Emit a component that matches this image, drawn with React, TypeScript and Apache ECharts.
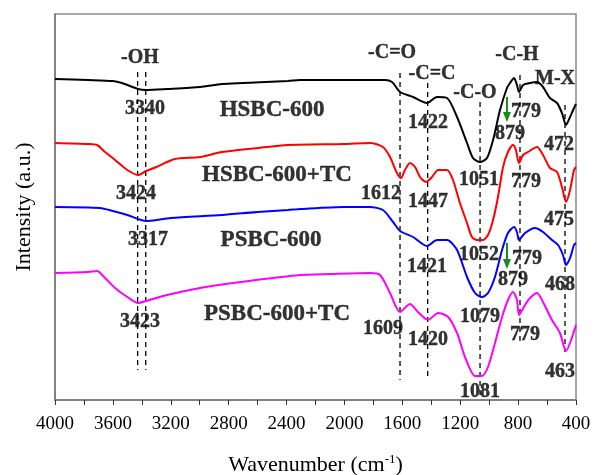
import React, { useEffect, useRef } from "react";
import * as echarts from "echarts";

// Curves: [wavenumber (cm-1), intensity (a.u., stacked offset)]
const hsbc600: number[][] = [
  [4000, 321], [3772, 320], [3600, 319], [3537, 317], [3426, 311], [3371, 310], [3226, 311], [2998, 313],
  [2846, 316], [2700, 317], [2390, 319], [2307, 320], [2000, 320], [1823, 320], [1720, 320], [1671, 318],
  [1616, 308], [1526, 303], [1430, 297], [1360, 303], [1291, 302], [1222, 283], [1153, 257], [1112, 242],
  [1063, 238], [1015, 242], [973, 260], [925, 290], [877, 312], [856, 317], [828, 322], [808, 315],
  [794, 308], [766, 315], [718, 317], [669, 318], [628, 313], [580, 302], [531, 297], [497, 287],
  [469, 275], [441, 283], [420, 290], [400, 296],
];
const hsbc600tc: number[][] = [
  [4000, 257], [3772, 256], [3710, 255], [3654, 248], [3585, 240], [3500, 230], [3426, 225], [3371, 229],
  [3300, 233], [3171, 241], [2998, 243], [2846, 248], [2600, 252], [2390, 255], [2000, 256], [1823, 257],
  [1734, 253], [1685, 243], [1637, 227], [1609, 222], [1582, 230], [1547, 237], [1512, 233], [1478, 223],
  [1436, 218], [1395, 223], [1353, 230], [1291, 230], [1250, 220], [1202, 197], [1153, 177], [1119, 163],
  [1084, 160], [1043, 160], [1008, 165], [973, 180], [939, 203], [904, 233], [870, 248], [835, 255],
  [815, 250], [794, 237], [766, 245], [732, 248], [669, 253], [628, 245], [580, 232], [531, 228],
  [497, 213], [469, 198], [441, 210], [414, 230], [400, 233],
];
const psbc600: number[][] = [
  [4000, 193], [3689, 192], [3600, 189], [3500, 185], [3371, 179], [3357, 179], [3200, 182], [2846, 185],
  [2600, 188], [2390, 190], [2300, 191], [2000, 193], [1823, 193], [1734, 190], [1664, 178], [1616, 169],
  [1526, 163], [1430, 154], [1360, 160], [1291, 160], [1222, 150], [1153, 123], [1098, 107], [1050, 103],
  [1008, 107], [960, 123], [911, 150], [870, 167], [828, 173], [808, 168], [794, 160], [752, 167],
  [683, 172], [628, 168], [566, 160], [524, 155], [490, 145], [469, 135], [441, 142], [414, 155], [400, 157],
];
const psbc600tc: number[][] = [
  [4000, 127], [3772, 128], [3710, 129], [3654, 122], [3585, 112], [3500, 103], [3426, 97], [3371, 99],
  [3226, 105], [2998, 112], [2770, 117], [2307, 125], [2100, 126], [1823, 127], [1754, 125], [1685, 107],
  [1616, 88], [1547, 96], [1492, 88], [1423, 80], [1353, 87], [1284, 83], [1222, 67], [1167, 43],
  [1098, 24], [1050, 24], [1008, 33], [960, 57], [911, 83], [870, 100], [835, 108], [808, 100],
  [794, 85], [752, 95], [718, 102], [669, 107], [628, 98], [566, 80], [511, 67], [469, 49],
  [441, 57], [400, 75],
];

// Dashed reference lines: [wavenumber, yTop, yBottom]
const refLines: number[][] = [
  [3429, 328, 30], [3373, 328, 30], [1616, 327, 20], [1425, 317, 20],
  [1063, 298, 5], [787, 325, 55], [476, 295, 48],
];

// Green arrows: [wavenumber, yStart, yEnd]
const arrows: number[][] = [[877, 303, 280], [877, 157, 133]];

// Sample names: [text, wavenumber, y]
const sampleNames: [string, number, number][] = [
  ["HSBC-600", 2500, 292], ["HSBC-600+TC", 2466, 227], ["PSBC-600", 2507, 162], ["PSBC-600+TC", 2466, 88],
];
// Group names
const groupNames: [string, number, number][] = [
  ["-OH", 3413, 344], ["-C=O", 1671, 349], ["-C=C", 1395, 328], ["-C-O", 1098, 309],
  ["-C-H", 808, 347], ["M-X", 545, 323],
];
// Peak labels
const peakLabels: [string, number, number][] = [
  ["3340", 3378, 293], ["3424", 3440, 208], ["3317", 3357, 162], ["3423", 3413, 80],
  ["1422", 1423, 279], ["779", 745, 290], ["879", 856, 268], ["472", 517, 257],
  ["1051", 1070, 222], ["1612", 1747, 208], ["1447", 1423, 200], ["779", 745, 220], ["475", 517, 182],
  ["1052", 1070, 147], ["779", 738, 143], ["879", 835, 122], ["468", 510, 117], ["1421", 1430, 135],
  ["1079", 1063, 85], ["1609", 1733, 73], ["1420", 1423, 62], ["779", 752, 67], ["463", 510, 30], ["1081", 1063, 10],
];

const curves: { name: string; data: number[][]; color: string }[] = [
  { name: "HSBC-600", data: hsbc600, color: "#000000" },
  { name: "HSBC-600+TC", data: hsbc600tc, color: "#ff0000" },
  { name: "PSBC-600", data: psbc600, color: "#0000ff" },
  { name: "PSBC-600+TC", data: psbc600tc, color: "#ff00ff" },
];

const FONT = "'Liberation Serif', 'Times New Roman', serif";

function textSeries(items: [string, number, number][], size: number) {
  return {
    type: "scatter",
    symbolSize: 1,
    itemStyle: { color: "transparent" },
    silent: true,
    z: 5,
    data: items.map(([t, w, y]) => ({ name: t, value: [w, y] })),
    label: {
      show: true,
      position: "inside",
      formatter: (p: any) => p.name,
      color: "#000",
      fontFamily: FONT,
      fontWeight: "bold",
      fontSize: size,
      textBorderColor: "#000",
      textBorderWidth: 0.4,
    },
  };
}

export default function App() {
  const ref = useRef<HTMLDivElement>(null);
  useEffect(() => {
    if (!ref.current) return;
    const chart = echarts.init(ref.current, null, { renderer: "svg" });
    const series: any[] = [];
    refLines.forEach(([w, y1, y2]) => {
      series.push({
        type: "line",
        data: [[w, y1], [w, y2]],
        symbol: "none",
        silent: true,
        lineStyle: { color: "#000", width: 1.3, type: [5, 4] },
        z: 1,
      });
    });
    curves.forEach((c) => {
      series.push({
        type: "line",
        name: c.name,
        data: c.data,
        symbol: "none",
        smooth: 0.25,
        lineStyle: { color: c.color, width: 2 },
        z: 3,
      });
    });
    arrows.forEach(([w, y1, y2]) => {
      series.push({
        type: "line",
        data: [
          { value: [w, y1], symbol: "none" },
          { value: [w, y2], symbol: "triangle", symbolSize: [8, 10], symbolRotate: 180, symbolOffset: [0, -3] },
        ],
        showSymbol: true,
        silent: true,
        itemStyle: { color: "#1a8a1a" },
        lineStyle: { color: "#1a8a1a", width: 2 },
        z: 4,
      });
    });
    series.push(textSeries(sampleNames, 23));
    series.push(textSeries(groupNames, 20));
    series.push(textSeries(peakLabels, 20));

    chart.setOption({
      animation: false,
      grid: {
        left: 55, right: 19, top: 14, bottom: 75,
        outerBoundsMode: "none",
        containLabel: false,
        show: true, borderColor: "#8a8a8a", borderWidth: 1.5, backgroundColor: "transparent",
      },
      xAxis: {
        type: "value",
        inverse: true,
        min: 400,
        max: 4000,
        interval: 200,
        name: "Wavenumber (cm{sup|-1})",
        nameLocation: "middle",
        nameGap: 52,
        nameTextStyle: {
          fontFamily: FONT, fontSize: 22, color: "#000",
          rich: { sup: { fontFamily: FONT, fontSize: 13, color: "#000", padding: [0, 0, 10, 0] } },
        },
        axisLine: { show: true, lineStyle: { color: "#777", width: 1.5 } },
        axisTick: { show: true, inside: false, length: 5, lineStyle: { color: "#333", width: 1 } },
        axisLabel: {
          margin: 13,
          fontFamily: FONT, fontSize: 19, color: "#000",
          formatter: (v: number) => (v % 400 === 0 ? String(v) : ""),
        },
        splitLine: { show: false },
      },
      yAxis: {
        type: "value",
        min: 0,
        max: 386,
        name: "Intensity (a.u.)",
        nameLocation: "middle",
        nameGap: 22,
        nameTextStyle: { fontFamily: FONT, fontSize: 22, color: "#000" },
        axisLine: { show: true, lineStyle: { color: "#777", width: 1.5 } },
        axisTick: { show: false },
        axisLabel: { show: false },
        splitLine: { show: false },
      },
      series,
    });
    return () => chart.dispose();
  }, []);
  return <div ref={ref} style={{ position: "fixed", left: 0, top: 0, width: 595, height: 475 }} />;
}
